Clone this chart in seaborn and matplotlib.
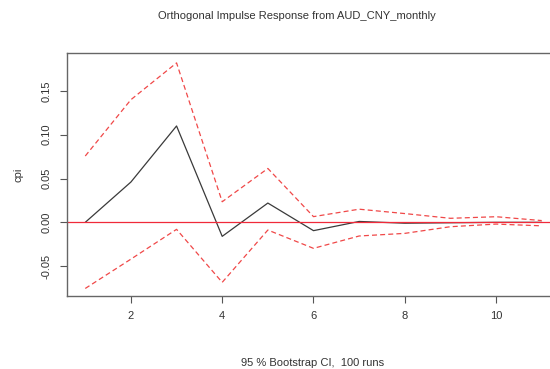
import matplotlib
matplotlib.use("Agg")
import matplotlib.pyplot as plt
import seaborn as sns
import pandas as pd

horizon = [1, 2, 3, 4, 5, 6, 7, 8, 9, 10, 11]
irf = [0.0, 0.046, 0.110, -0.016, 0.022, -0.0095, 0.001, -0.001, -0.0005, 0.0, 0.0]
upper = [0.0757, 0.140, 0.182, 0.0235, 0.0615, 0.0065, 0.015, 0.010, 0.0046, 0.0064, 0.002]
lower = [-0.0755, -0.042, -0.008, -0.0685, -0.0088, -0.0297, -0.0156, -0.0126, -0.005, -0.002, -0.004]

df = pd.DataFrame({"h": horizon, "irf": irf, "upper": upper, "lower": lower})

sns.set_style("white")
plt.rcParams["font.family"] = ["Liberation Sans", "DejaVu Sans"]

fig = plt.figure(figsize=(5.5, 3.69), dpi=100)
# plot region runs past the right edge, as in the cropped reference
ax = fig.add_axes([67 / 550, 1 - 296 / 369, 493 / 550, 243 / 369])

sns.lineplot(data=df, x="h", y="irf", ax=ax, color="#3a3a3a", lw=0.9)
sns.lineplot(data=df, x="h", y="upper", ax=ax, color="#f04848", lw=0.9, linestyle=(0, (4, 2.5)))
sns.lineplot(data=df, x="h", y="lower", ax=ax, color="#f04848", lw=0.9, linestyle=(0, (4, 2.5)))
ax.axhline(0, color="#f02a3a", lw=0.9)

ax.set_xlim(0.6, 11.4)
ax.set_ylim(-0.0841, 0.1933)
ax.set_xticks([2, 4, 6, 8, 10])
ax.set_yticks([-0.05, 0.0, 0.05, 0.10, 0.15])
ax.set_yticklabels(["-0.05", "0.00", "0.05", "0.10", "0.15"], rotation=90, va="center")
ax.tick_params(axis="both", direction="out", length=5, width=0.8, color="#555555",
               labelsize=8, labelcolor="#333333", pad=6, left=True, bottom=True)
for s in ax.spines.values():
    s.set_color("#666666")
    s.set_linewidth(1.0)

ax.set_xlabel("")
ax.set_ylabel("cpi", fontsize=8, color="#333333", labelpad=13)
fig.text(313 / 550, 1 - 363 / 369, "95 % Bootstrap CI,  100 runs", ha="center", va="center",
         fontsize=8, color="#333333")
fig.text(297 / 550, 1 - 16 / 369, "Orthogonal Impulse Response from AUD_CNY_monthly",
         ha="center", va="center", fontsize=8, color="#333333")

fig.savefig("out.png", dpi=100)
